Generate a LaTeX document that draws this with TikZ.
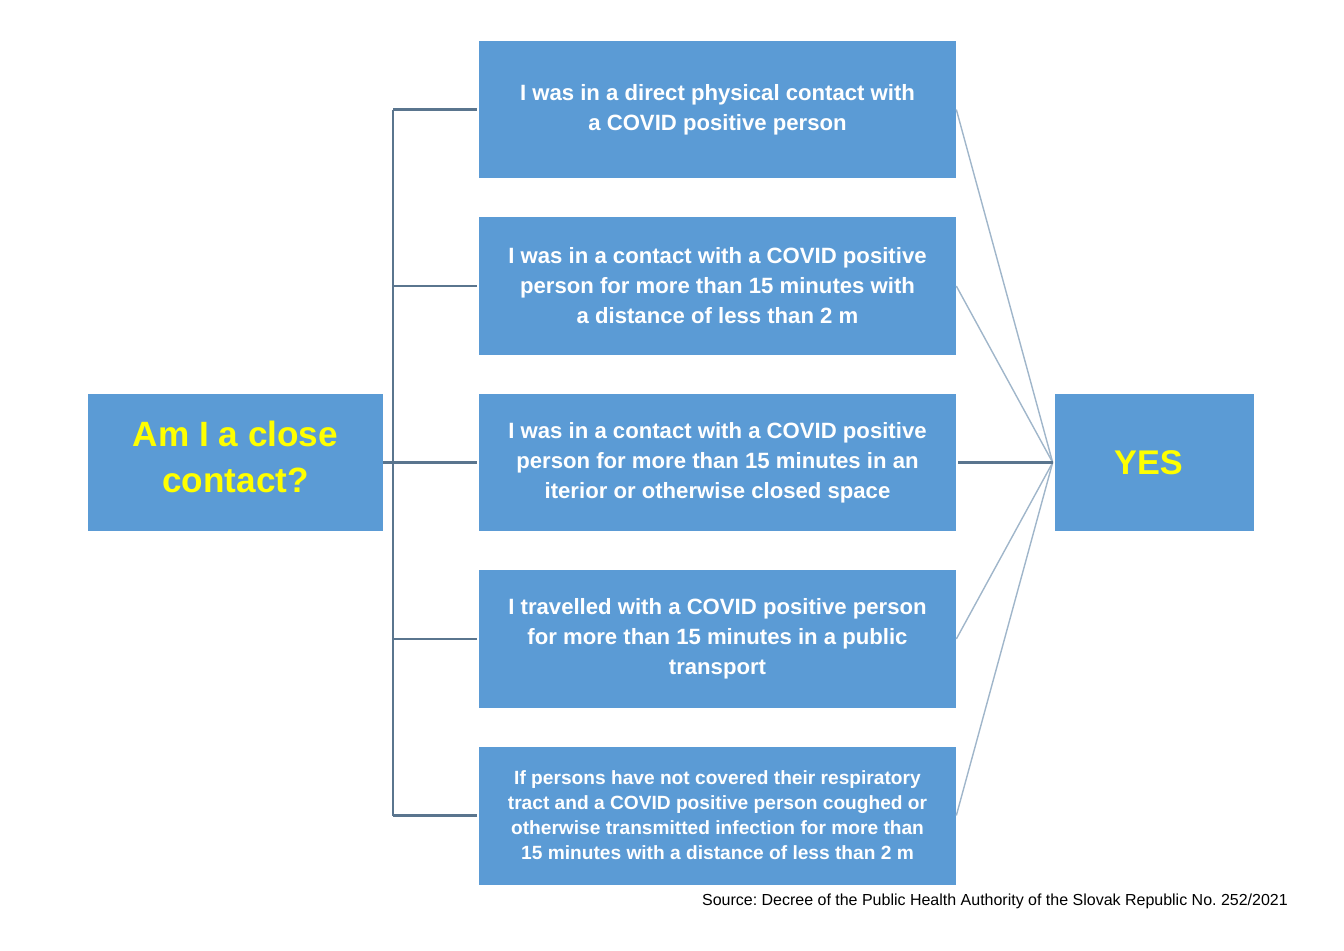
\documentclass[tikz,border=0pt]{standalone}
\usepackage{fontspec}
\setmainfont{Liberation Sans}
\usepackage{tikz}
\usetikzlibrary{positioning,calc}
\definecolor{BoxBlue}{RGB}{91,155,213}
\definecolor{QYellow}{RGB}{255,255,0}
\definecolor{Slate}{RGB}{90,117,142}
\definecolor{PaleSlate}{RGB}{160,182,202}
\frenchspacing

\begin{document}
\begin{tikzpicture}[x=0.02cm,y=-0.02cm,
  qbox/.style={fill=BoxBlue,minimum width=5.9cm,minimum height=2.74cm,inner sep=0pt},
  qtext/.style={text=QYellow,font=\fontsize{20}{26}\selectfont\bfseries,align=center},
  condbox/.style={fill=BoxBlue,minimum width=9.54cm,minimum height=2.76cm,
    align=center,text=white,font=\fontsize{12.6}{17.1}\selectfont\bfseries,inner sep=0pt},
  smallcond/.style={condbox,font=\fontsize{10.9}{14.2}\selectfont\bfseries},
  ansbox/.style={fill=BoxBlue,minimum width=3.98cm,minimum height=2.74cm,inner sep=0pt},
  link/.style={draw=Slate,line width=1.6pt},
  fan/.style={draw=PaleSlate,line width=0.8pt},
]
\useasboundingbox (0,0) rectangle (1344,950);
% --- question and answer ---
\node[qbox] (Q) at (235.5,462.5) {};
\node[qtext] (Qt) at (235.5,457) {Am I a close\\contact?};
\node[ansbox] (Y) at (1154.5,462.5) {};
\node[qtext,font=\fontsize{19.5}{26}\selectfont\bfseries] (Yt) at (1148.5,462.5) {YES};

% --- conditions ---
\node[condbox] (C1) at (717.5,109.5)
  {I was in a direct physical contact with\\a COVID positive person};
\node[condbox] (C2) at (717.5,286)
  {I was in a contact with a COVID positive\\person for more than 15 minutes with\\a distance of less than 2 m};
\node[condbox] (C3) at (717.5,462.5)
  {I was in a contact with a COVID positive\\person for more than 15 minutes in an\\iterior or otherwise closed space};
\node[condbox] (C4) at (717.5,639)
  {I travelled with a COVID positive person\\for more than 15 minutes in a public\\transport};
\node[smallcond] (C5) at (717.5,815.5)
  {If persons have not covered their respiratory\\tract and a COVID positive person coughed or\\otherwise transmitted infection for more than\\15 minutes with a distance of less than 2 m};

\node[anchor=south east,font=\fontsize{9.1}{10}\selectfont] (src) at (1294,915)
  {Source: Decree of the Public Health Authority of the Slovak Republic No. 252/2021};

% --- bracket on the left ---
\coordinate (trunk) at (393,462.5);
\draw[link] (C1.west -| trunk) -- (C5.west -| trunk);
\draw[link] (Q.east) -- (trunk);
\foreach \c in {C1,C2,C3,C4,C5}
  \draw[link] ($(\c.west)+(-2,0)$) -- (\c.west -| trunk);

% --- fan on the right ---
\foreach \c in {C1,C2,C4,C5}
  \draw[fan] (\c.east) -- ($(Y.west)+(-2,0)$);
\draw[link] ($(C3.east)+(2,0)$) -- ($(Y.west)+(-2,0)$);
\end{tikzpicture}
\end{document}
